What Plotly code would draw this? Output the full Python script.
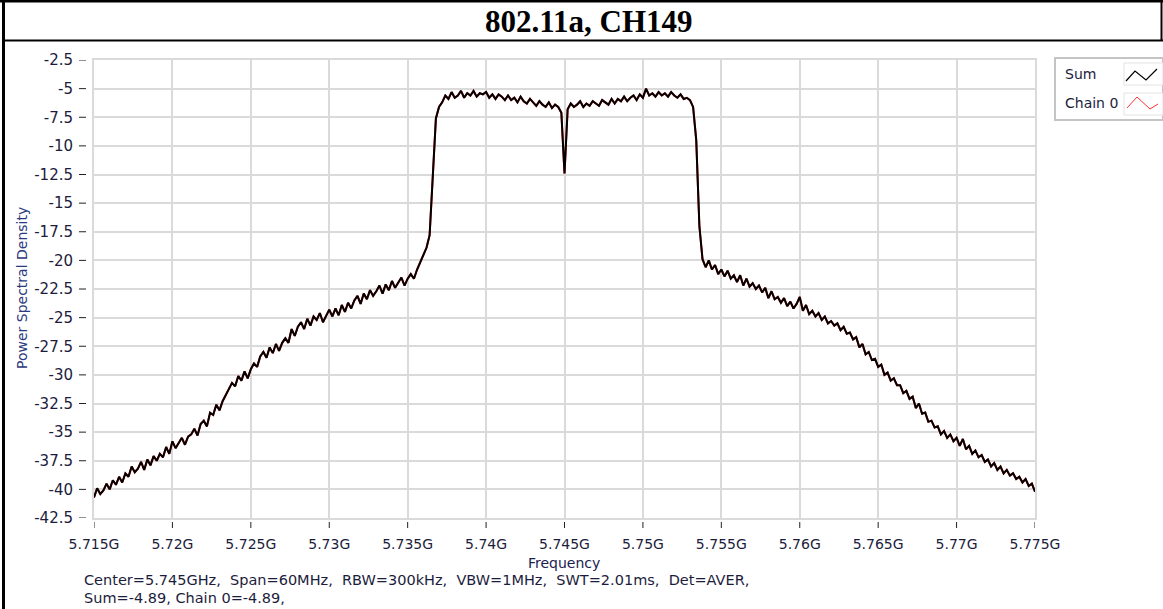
import numpy as np
import plotly.graph_objects as go

# Sweep settings (centre 5.745 GHz, span 60 MHz)
F_START = 5.715e9
F_STOP = 5.775e9
N_POINTS = 301

# Averaged power spectral density of the summed output, one value per sweep point
sum_psd = [
    -40.7, -39.9, -40.4, -40.1, -39.5, -40.0, -39.2, -39.6, -38.9, -39.4, -38.6,
    -38.9, -38.0, -38.5, -38.2, -37.6, -38.3, -37.4, -37.9, -37.1, -37.5,
    -36.9, -37.2, -36.3, -36.9, -35.8, -36.4, -36.0, -35.5, -36.1, -35.4,
    -35.2, -34.7, -35.3, -34.3, -34.0, -34.5, -33.3, -33.5, -32.6, -33.1,
    -32.3, -31.8, -31.2, -30.7, -31.0, -30.1, -30.5, -29.7, -30.3, -29.5,
    -29.0, -29.3, -28.4, -28.0, -28.5, -27.6, -28.1, -27.3, -27.9, -27.2,
    -26.8, -27.2, -26.0, -26.6, -25.8, -25.4, -26.0, -25.1, -25.7, -24.9,
    -25.2, -24.6, -25.4, -24.9, -24.3, -24.9, -24.2, -24.8, -23.9, -24.5,
    -23.7, -24.2, -23.5, -23.1, -23.8, -22.9, -23.4, -22.6, -23.1, -22.7,
    -22.2, -22.9, -22.1, -22.6, -21.8, -22.4, -22.0, -21.5, -22.2, -21.6,
    -21.2, -21.6, -20.8, -20.2, -19.6, -18.9, -17.8, -12.5, -7.6, -6.6,
    -6.2, -5.6, -5.9, -5.3, -5.8, -5.6, -5.2, -5.8, -5.4, -5.6,
    -5.2, -5.7, -5.4, -5.5, -5.3, -5.8, -5.5, -5.9, -5.5, -5.7,
    -6.0, -5.6, -6.0, -5.8, -6.2, -5.7, -6.1, -6.3, -5.9, -6.2,
    -6.5, -6.1, -6.4, -6.6, -6.2, -6.7, -6.4, -6.6, -7.1, -12.4,
    -6.8, -6.3, -6.6, -6.4, -6.1, -6.6, -6.3, -6.5, -6.1, -6.3,
    -6.5, -6.0, -6.2, -6.4, -5.9, -6.3, -5.9, -6.1, -5.7, -6.1,
    -5.8, -5.6, -6.0, -5.5, -5.8, -5.0, -5.6, -5.4, -5.7, -5.3,
    -5.6, -5.4, -5.7, -5.3, -5.6, -5.8, -5.5, -5.9, -5.8, -6.0,
    -6.6, -9.5, -17.0, -19.9, -20.6, -20.0, -20.8, -20.4, -21.2, -20.8,
    -21.4, -20.9, -21.6, -21.3, -21.9, -21.3, -22.2, -21.6, -22.3, -22.0,
    -22.5, -22.2, -22.8, -22.4, -23.3, -22.7, -23.4, -23.2, -23.7, -23.3,
    -24.0, -23.6, -24.2, -23.8, -23.2, -24.4, -23.9, -24.7, -24.4, -24.9,
    -24.6, -25.2, -24.9, -25.5, -25.3, -25.7, -25.5, -26.1, -25.8, -26.4,
    -26.3, -26.9, -26.7, -27.6, -27.3, -28.2, -28.0, -28.7, -28.6, -29.3,
    -29.1, -30.0, -29.8, -30.5, -30.3, -30.9, -30.9, -31.6, -31.4, -32.1,
    -31.9, -32.9, -32.5, -33.4, -33.3, -34.1, -34.0, -34.6, -34.5, -35.2,
    -34.9, -35.5, -35.2, -35.8, -35.5, -36.2, -35.6, -36.5, -36.2, -36.9,
    -36.6, -37.2, -37.0, -37.6, -37.4, -38.0, -37.7, -38.3, -38.0, -38.6,
    -38.3, -38.8, -38.6, -39.1, -38.9, -39.4, -39.1, -39.7, -39.5, -40.2,
]
# Single chain: identical to the sum (Sum=-4.89, Chain 0=-4.89)
chain0_psd = list(sum_psd)

x_tick_vals = [5.715e9, 5.72e9, 5.725e9, 5.73e9, 5.735e9, 5.74e9, 5.745e9,
               5.75e9, 5.755e9, 5.76e9, 5.765e9, 5.77e9, 5.775e9]
x_tick_text = ["5.715G", "5.72G", "5.725G", "5.73G", "5.735G", "5.74G", "5.745G",
               "5.75G", "5.755G", "5.76G", "5.765G", "5.77G", "5.775G"]
y_tick_vals = [-2.5, -5, -7.5, -10, -12.5, -15, -17.5, -20, -22.5, -25,
               -27.5, -30, -32.5, -35, -37.5, -40, -42.5]
y_tick_text = ["-2.5", "-5", "-7.5", "-10", "-12.5", "-15", "-17.5", "-20", "-22.5",
               "-25", "-27.5", "-30", "-32.5", "-35", "-37.5", "-40", "-42.5"]

freq = np.linspace(F_START, F_STOP, N_POINTS)

W, H = 1163, 609
ML, MR, MT, MB = 94, 128, 60, 91
PW, PH = W - ML - MR, H - MT - MB


def px(xp):
    """Horizontal pixel -> paper fraction."""
    return (xp - ML) / PW


def py(yp):
    """Vertical pixel (from top) -> paper fraction."""
    return (H - MB - yp) / PH


TXT = "#1c1c3c"
FONT = "DejaVu Sans"

fig = go.Figure()
fig.add_trace(go.Scatter(x=freq, y=chain0_psd, mode="lines", name="Chain 0",
                         line=dict(color="#ff2020", width=2), showlegend=False))
fig.add_trace(go.Scatter(x=freq, y=sum_psd, mode="lines", name="Sum",
                         line=dict(color="#000000", width=2), showlegend=False))

shapes = []
# outer frame and title row
frame = dict(type="line", xref="paper", yref="paper", line=dict(color="black", width=3))
shapes.append({**frame, "x0": px(0), "x1": px(W), "y0": py(1), "y1": py(1)})
shapes.append({**frame, "x0": px(3.5), "x1": px(3.5), "y0": py(0), "y1": py(H)})
shapes.append({**frame, "x0": px(3), "x1": px(W), "y0": py(40.5), "y1": py(40.5),
               "line": dict(color="black", width=2)})
shapes.append({**frame, "x0": px(1161.5), "x1": px(1161.5), "y0": py(0), "y1": py(40.5),
               "line": dict(color="black", width=2)})

# detached tick marks
for v in x_tick_vals:
    shapes.append(dict(type="line", xref="x", yref="paper", x0=v, x1=v,
                       y0=py(522), y1=py(528), line=dict(color="#222222", width=1)))
for v in y_tick_vals:
    shapes.append(dict(type="line", xref="paper", yref="y", x0=px(79), x1=px(86),
                       y0=v, y1=v, line=dict(color="#222222", width=1)))

# legend panel
shapes.append(dict(type="rect", xref="paper", yref="paper", x0=px(1055), x1=px(1163),
                   y0=py(58), y1=py(120), line=dict(color="#c4c4c4", width=2),
                   fillcolor="white"))
for top in (63, 93):
    shapes.append(dict(type="rect", xref="paper", yref="paper", x0=px(1124), x1=px(1163),
                       y0=py(top), y1=py(top + 22), line=dict(color="#e2e2e2", width=1),
                       fillcolor="white"))


def zigzag(pts):
    return "M " + " L ".join(f"{px(a):.5f},{py(b):.5f}" for a, b in pts)


shapes.append(dict(type="path", xref="paper", yref="paper",
                   path=zigzag([(1126, 81), (1135, 71), (1146, 80), (1157, 69)]),
                   line=dict(color="black", width=1.2)))
shapes.append(dict(type="path", xref="paper", yref="paper",
                   path=zigzag([(1127, 108), (1137, 97), (1150, 109), (1158, 104)]),
                   line=dict(color="#ff3030", width=1)))

annotations = [
    dict(text="<b>802.11a, CH149</b>", xref="paper", yref="paper", x=px(589), y=py(22),
         showarrow=False, font=dict(family="Liberation Serif", size=31, color="black"),
         xanchor="center", yanchor="middle"),
    dict(text="Frequency", xref="paper", yref="paper", x=px(563.5), y=py(563),
         showarrow=False, font=dict(family=FONT, size=14, color="#1b2050"),
         xanchor="center", yanchor="middle"),
    dict(text="Power Spectral Density", xref="paper", yref="paper", x=px(22), y=py(288),
         showarrow=False, textangle=-90, font=dict(family=FONT, size=14, color="#2b3a80"),
         xanchor="center", yanchor="middle"),
    dict(text="Center=5.745GHz,\u00a0 Span=60MHz,\u00a0 RBW=300kHz,\u00a0 VBW=1MHz,\u00a0 "
              "SWT=2.01ms,\u00a0 Det=AVER,",
         xref="paper", yref="paper", x=px(82), y=py(580), showarrow=False,
         font=dict(family=FONT, size=14.5, color=TXT), xanchor="left", yanchor="middle"),
    dict(text="Sum=-4.89, Chain 0=-4.89,", xref="paper", yref="paper", x=px(82), y=py(598),
         showarrow=False, font=dict(family=FONT, size=14.5, color=TXT),
         xanchor="left", yanchor="middle"),
    dict(text="Sum", xref="paper", yref="paper", x=px(1063), y=py(74), showarrow=False,
         font=dict(family=FONT, size=14, color=TXT), xanchor="left", yanchor="middle"),
    dict(text="Chain 0", xref="paper", yref="paper", x=px(1063), y=py(103), showarrow=False,
         font=dict(family=FONT, size=14, color=TXT), xanchor="left", yanchor="middle"),
]

fig.update_layout(
    width=W, height=H,
    margin=dict(l=ML, r=MR, t=MT, b=MB, pad=0),
    paper_bgcolor="white", plot_bgcolor="white",
    showlegend=False,
    shapes=shapes,
    annotations=annotations,
    xaxis=dict(range=[F_START, F_STOP], tickvals=x_tick_vals, ticktext=x_tick_text,
               ticks="", ticklabelstandoff=12, showgrid=True, gridcolor="#dadada",
               gridwidth=2, zeroline=False, showline=True, linecolor="#dadada",
               linewidth=2, mirror=True,
               tickfont=dict(family=FONT, size=14, color=TXT)),
    yaxis=dict(range=[-42.5, -2.5], tickvals=y_tick_vals, ticktext=y_tick_text,
               ticks="", ticklabelstandoff=16, showgrid=True, gridcolor="#dadada",
               gridwidth=2, zeroline=False, showline=True, linecolor="#dadada",
               linewidth=2, mirror=True,
               tickfont=dict(family=FONT, size=15, color=TXT)),
)

fig.write_html("out.html")
